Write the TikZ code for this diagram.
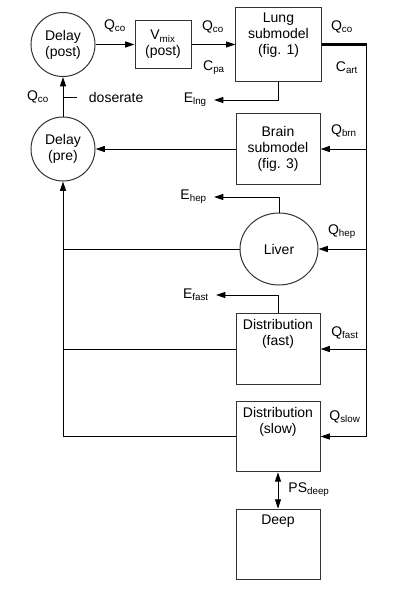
\documentclass[tikz,border=0pt]{standalone}
\usepackage{fontspec}
\setmainfont{Liberation Sans}
\usetikzlibrary{arrows.meta,shapes.geometric}
\begin{document}
\begin{tikzpicture}[x=0.75pt,y=-0.75pt,line width=0.75pt,
                    font=\fontsize{10.5}{12}\selectfont,
                    flow/.style={-{Triangle[length=7pt,width=4.5pt]}},
                    both/.style={{Triangle[length=7pt,width=4.5pt]}-{Triangle[length=7pt,width=4.5pt]}},
                    comp/.style={draw=black!80,align=center,inner sep=0pt},
                    pool/.style={comp,circle,minimum size=48pt},
                    organ/.style={comp,rectangle,minimum width=63pt,minimum height=53pt},
                    toptext/.style={anchor=north,align=center,yshift=-1pt},
                    elab/.style={inner xsep=5pt,inner ysep=1pt,anchor=east}]
\useasboundingbox (0,0) rectangle (417,589);
\node[pool] (dpost) at (63,44.5) {Delay\\(post)};
\node[pool] (dpre) at (63,149) {Delay\\(pre)};
\node[comp,minimum width=42pt,minimum height=36pt] (vmix) at (163,44.5) {V\textsubscript{mix}\\(post)};
\node[comp,minimum width=64pt,minimum height=56pt,
      label={[toptext]north:{Lung\\submodel\\(fig. 1)}}] (lung) at (278.5,44.5) {};
\node[organ] (brain) at (278,149) {Brain\\submodel\\(fig. 3)};
\node[comp,ellipse,minimum width=58.5pt,minimum height=54pt] (liver) at (279,249) {Liver};
\node[organ,label={[toptext]north:{Distribution\\(fast)}}] (fast) at (278,349) {};
\node[organ,label={[toptext]north:{Distribution\\(slow)}}] (slow) at (278,436.5) {};
\node[organ,label={[toptext]north:Deep}] (deep) at (278,544.5) {};
\coordinate (rt) at (366.5,44.5);
\coordinate (rb) at (366.5,436.5);
\node (qco1) at (115,26) {Q\textsubscript{co}};
\node (qco2) at (213,27) {Q\textsubscript{co}};
\node (cpa) at (214,68) {C\textsubscript{pa}};
\node (qco3) at (342,27) {Q\textsubscript{co}};
\node (cart) at (347,68) {C\textsubscript{art}};
\node (qco4) at (38,97) {Q\textsubscript{co}};
\node[anchor=west] (dose) at (84,97) {doserate};
\node[elab] (elng) at (214,100) {E\textsubscript{lng}};
\node (qbrn) at (344,131) {Q\textsubscript{brn}};
\node[elab] (ehep) at (214,197) {E\textsubscript{hep}};
\node (qhep) at (342,232) {Q\textsubscript{hep}};
\node[elab] (efast) at (216,295) {E\textsubscript{fast}};
\node (qfast) at (345,333) {Q\textsubscript{fast}};
\node (qslow) at (345,417) {Q\textsubscript{slow}};
\node (psdeep) at (309,490) {PS\textsubscript{deep}};
\draw[flow] (dpost.east) -- (vmix.west);
\draw[flow] (vmix.east) -- (lung.west);
\draw[line width=1.6pt] (lung.east) -- (rt);
\draw (rt) -- (rb);
\draw[flow] (lung.south) |- (elng.east);
\draw[flow] (rt |- brain.east) -- (brain.east);
\draw[flow] (rt |- liver.east) -- (liver.east);
\draw[flow] (rt |- fast.east) -- (fast.east);
\draw[flow] (rb) -- (slow.east);
\draw[flow] (liver.north) |- (ehep.east);
\draw[flow] (fast.north) |- (efast.east);
\draw[flow] (brain.west) -- (dpre.east);
\draw (liver.west) -- (liver.west -| dpre.south);
\draw (fast.west) -- (fast.west -| dpre.south);
\draw[flow] (slow.west) -| (dpre.south);
\draw[flow] (dpre.north) -- (dpost.south);
\draw (dpre.north |- dose) -- ++(14,0);
\draw[both] (slow.south) -- (deep.north);
\end{tikzpicture}
\end{document}
